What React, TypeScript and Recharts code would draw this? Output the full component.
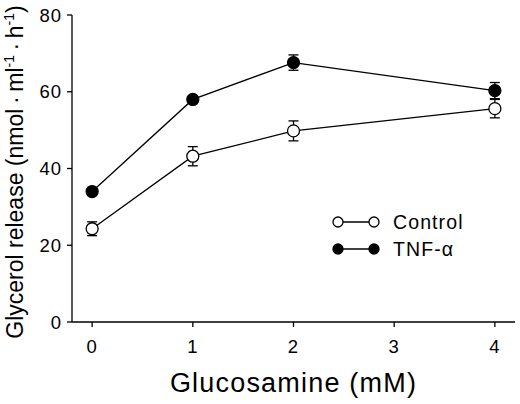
import React from "react";
import { LineChart, Line, XAxis, YAxis, ErrorBar } from "recharts";

const doses = [0, 1, 2, 4];
const control = [24.3, 43.2, 49.8, 55.6];
const controlErr = [1.8, 2.5, 2.6, 2.4];
const tnf = [34.0, 58.0, 67.6, 60.3];
const tnfErr = [0.5, 0.6, 2.0, 2.1];
const xTicks = [0, 1, 2, 3, 4];
const yTicks = [0, 20, 40, 60, 80];

const data = doses.map((d, i) => ({
  dose: d,
  control: control[i],
  controlErr: controlErr[i],
  tnf: tnf[i],
  tnfErr: tnfErr[i],
}));

const series = [
  { key: "control", name: "Control", fill: "#fff" },
  { key: "tnf", name: "TNF-\u03b1", fill: "#000" },
];

const FONT = "'Liberation Sans', Arial, Helvetica, sans-serif";

const YLabel = () => {
  const cx = 23;
  const cy = 172;
  return (
    <text
      x={cx}
      y={cy}
      transform={`rotate(-90, ${cx}, ${cy})`}
      textAnchor="middle"
      fontSize={23}
      fontFamily={FONT}
      fill="#000"
    >
      <tspan>Glycerol release (nmol{"\u2009\u00b7\u2009"}ml</tspan>
      <tspan fontSize={14} dy={-9}>-1</tspan>
      <tspan dy={9}>{"\u2009\u00b7\u2009"}h</tspan>
      <tspan fontSize={14} dy={-9}>-1</tspan>
      <tspan dy={9}>)</tspan>
    </text>
  );
};

const XLabel = (props: any) => {
  const vb = props.viewBox || {};
  const cx = (vb.x ?? 72) + (vb.width ?? 443) / 2;
  return (
    <text
      x={cx}
      y={392}
      textAnchor="middle"
      fontSize={27}
      letterSpacing={1.2}
      fontFamily={FONT}
      fill="#000"
    >
      Glucosamine (mM)
    </text>
  );
};

const LegendBox = () => (
  <svg width={160} height={60} style={{ position: "absolute", left: 325, top: 210 }}>
    {series.map((s, i) => {
      const y = 12 + i * 27;
      return (
        <g key={s.key}>
          <line x1={13} x2={49} y1={y} y2={y} stroke="#000" strokeWidth={1.3} />
          <circle cx={13} cy={y} r={5} fill={s.fill} stroke="#000" strokeWidth={1.3} />
          <circle cx={49} cy={y} r={5} fill={s.fill} stroke="#000" strokeWidth={1.3} />
          <text
            x={68}
            y={y}
            dy="0.36em"
            fontSize={19.5}
            letterSpacing={1.1}
            fontFamily={FONT}
            fill="#000"
          >
            {s.name}
          </text>
        </g>
      );
    })}
  </svg>
);

export default function App() {
  return (
    <div style={{ position: "absolute", left: 0, top: 0, width: 520, height: 404, background: "#fff" }}>
      <LineChart
        width={520}
        height={404}
        data={data}
        margin={{ top: 15, right: 5, bottom: 0, left: 0 }}
        style={{ fontFamily: FONT }}
      >
        <XAxis
          dataKey="dose"
          type="number"
          domain={[-0.2, 4.2]}
          ticks={xTicks}
          height={82}
          tickSize={5}
          tickMargin={13}
          tick={{ fontSize: 18.5, fill: "#000", fontFamily: FONT, letterSpacing: 1 }}
          axisLine={{ stroke: "#000", strokeWidth: 1.3 }}
          tickLine={{ stroke: "#000", strokeWidth: 1.3 }}
          label={<XLabel />}
        />
        <YAxis
          type="number"
          domain={[0, 80]}
          ticks={yTicks}
          width={72}
          tickSize={5}
          tickMargin={5}
          tick={{ fontSize: 18.5, fill: "#000", fontFamily: FONT, letterSpacing: 1 }}
          axisLine={{ stroke: "#000", strokeWidth: 1.3 }}
          tickLine={{ stroke: "#000", strokeWidth: 1.3 }}
          label={<YLabel />}
        />
        {series.map((s) => (
          <Line
            key={s.key + "-line"}
            dataKey={s.key}
            name={s.name}
            type="linear"
            stroke="#000"
            strokeWidth={1.3}
            isAnimationActive={false}
            dot={false}
            activeDot={false}
          >
            <ErrorBar
              dataKey={s.key + "Err"}
              direction="y"
              width={5}
              stroke="#000"
              strokeWidth={1.3}
              isAnimationActive={false}
            />
          </Line>
        ))}
        {series.map((s) => (
          <Line
            key={s.key + "-dots"}
            dataKey={s.key}
            name={s.name}
            type="linear"
            stroke="none"
            isAnimationActive={false}
            dot={{ r: 6, fill: s.fill, stroke: "#000", strokeWidth: 1.3 }}
            activeDot={false}
            legendType="none"
          />
        ))}
      </LineChart>
      <LegendBox />
    </div>
  );
}
